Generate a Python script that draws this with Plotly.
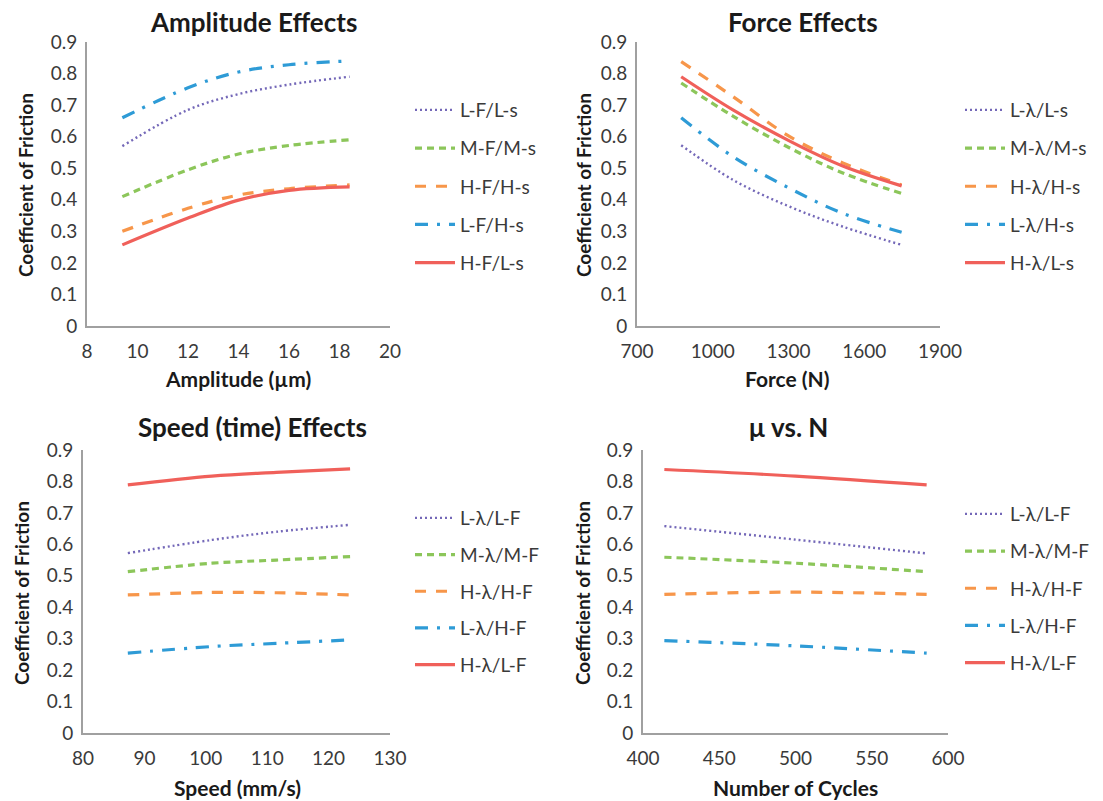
import plotly.graph_objects as go

W, H = 1103, 801

# ---------------- data ----------------
amp_x = [9.4, 12, 14, 16, 18.4]
amp_LF_Ls = [0.57, 0.685, 0.735, 0.765, 0.79]
amp_MF_Ms = [0.41, 0.495, 0.545, 0.572, 0.59]
amp_HF_Hs = [0.30, 0.373, 0.415, 0.435, 0.447]
amp_LF_Hs = [0.66, 0.755, 0.805, 0.828, 0.84]
amp_HF_Ls = [0.257, 0.342, 0.399, 0.430, 0.441]
amp_names = ["L-F/L-s", "M-F/M-s", "H-F/H-s", "L-F/H-s", "H-F/L-s"]

force_x = [875, 1080, 1305, 1515, 1748]
force_L_Ls = [0.573, 0.463, 0.378, 0.315, 0.257]
force_M_Ms = [0.77, 0.665, 0.564, 0.485, 0.42]
force_H_Hs = [0.838, 0.727, 0.60, 0.517, 0.447]
force_L_Hs = [0.66, 0.537, 0.436, 0.357, 0.297]
force_H_Ls = [0.79, 0.685, 0.586, 0.507, 0.444]
force_names = ["L-λ/L-s", "M-λ/M-s", "H-λ/H-s", "L-λ/H-s", "H-λ/L-s"]

speed_x = [87.3, 101, 111.5, 123.5]
speed_L_LF = [0.572, 0.614, 0.64, 0.662]
speed_M_MF = [0.513, 0.54, 0.55, 0.561]
speed_H_HF = [0.439, 0.447, 0.446, 0.439]
speed_L_HF = [0.254, 0.275, 0.285, 0.296]
speed_H_LF = [0.789, 0.817, 0.829, 0.84]
speed_names = ["L-λ/L-F", "M-λ/M-F", "H-λ/H-F", "L-λ/H-F", "H-λ/L-F"]

cyc_x = [414, 500, 586]
cyc_L_LF = [0.658, 0.615, 0.571]
cyc_M_MF = [0.559, 0.54, 0.513]
cyc_H_HF = [0.441, 0.448, 0.441]
cyc_L_HF = [0.294, 0.277, 0.254]
cyc_H_LF = [0.838, 0.817, 0.789]
cyc_names = ["L-λ/L-F", "M-λ/M-F", "H-λ/H-F", "L-λ/H-F", "H-λ/L-F"]

titles = ["Amplitude Effects", "Force Effects", "Speed (time) Effects", "μ vs. N"]
xtitles = ["Amplitude (µm)", "Force (N)", "Speed (mm/s)", "Number of Cycles"]
ytitle = "Coefficient of Friction"

# ---------------- styles ----------------
colors = ["#7468b8", "#8cc65a", "#f7964a", "#2e9bd6", "#f0605a"]
dashes = ["2px,3px", "7px,5px", "11px,10px", "13px,9px,3px,9px", "solid"]
widths = [2.4, 3.2, 3.2, 3.2, 3.2]

FONT = "Lato, Open Sans, sans-serif"
TXT = "#3a3a3a"

def X(px):
    return px / W

def Y(py):
    return 1 - py / H

panels = [
    dict(x=amp_x, ys=[amp_LF_Ls, amp_MF_Ms, amp_HF_Hs, amp_LF_Hs, amp_HF_Ls], names=amp_names,
         box=(87, 390, 42, 326), xr=[8, 20], dt=2, leg=(410, 91), gap=10.5,
         title=(253, 22), xt=(238, 378), yt=(25, 185)),
    dict(x=force_x, ys=[force_L_Ls, force_M_Ms, force_H_Hs, force_L_Hs, force_H_Ls], names=force_names,
         box=(637, 940, 42, 326), xr=[700, 1900], dt=300, leg=(960, 91), gap=10.5,
         title=(803, 22), xt=(787, 378), yt=(583, 185)),
    dict(x=speed_x, ys=[speed_L_LF, speed_M_MF, speed_H_HF, speed_L_HF, speed_H_LF], names=speed_names,
         box=(83, 390, 450, 733), xr=[80, 130], dt=10, leg=(410, 499), gap=9,
         title=(252, 427), xt=(237, 787), yt=(21, 593)),
    dict(x=cyc_x, ys=[cyc_L_LF, cyc_M_MF, cyc_H_HF, cyc_L_HF, cyc_H_LF], names=cyc_names,
         box=(643, 948, 450, 733), xr=[400, 600], dt=50, leg=(960, 495), gap=9.5,
         title=(788, 427), xt=(795, 787), yt=(582, 593)),
]

fig = go.Figure()
annotations = []
layout = dict(
    width=W, height=H, margin=dict(l=0, r=0, t=0, b=0, autoexpand=False),
    paper_bgcolor="white", plot_bgcolor="white",
    font=dict(family=FONT, color=TXT),
    showlegend=True,
)

for i, p in enumerate(panels):
    k = i + 1
    xa = "x" if k == 1 else f"x{k}"
    ya = "y" if k == 1 else f"y{k}"
    lg = "legend" if k == 1 else f"legend{k}"
    for j in range(5):
        fig.add_trace(go.Scatter(
            x=p["x"], y=p["ys"][j], name=p["names"][j], mode="lines",
            line=dict(color=colors[j], width=widths[j], dash=dashes[j], shape="spline", smoothing=1.0),
            xaxis=xa, yaxis=ya, legend=lg, legendgroup=f"g{k}_{j}",
        ))
    x0, x1, y0, y1 = p["box"]
    axs = dict(showline=True, linecolor="#a0a0a0", linewidth=2, showgrid=False, zeroline=False,
               ticks="", automargin=False, tickfont=dict(size=19, color=TXT, family=FONT))
    layout["xaxis" if k == 1 else f"xaxis{k}"] = dict(
        domain=[X(x0), X(x1)], range=p["xr"], dtick=p["dt"], tick0=p["xr"][0],
        anchor=ya, ticklabelstandoff=7, **axs)
    layout["yaxis" if k == 1 else f"yaxis{k}"] = dict(
        domain=[Y(y1), Y(y0)], range=[0, 0.9], dtick=0.1, tickformat="~g",
        anchor=xa, ticklabelstandoff=4, **axs)
    layout[lg] = dict(
        x=X(p["leg"][0]), y=Y(p["leg"][1]), xanchor="left", yanchor="top",
        font=dict(size=19, color=TXT, family=FONT), tracegroupgap=p["gap"],
        bgcolor="rgba(0,0,0,0)", itemwidth=40,
    )
    annotations.append(dict(text=f"<b>{titles[i]}</b>", x=X(p["title"][0]), y=Y(p["title"][1]),
                            xref="paper", yref="paper", showarrow=False,
                            xanchor="center", yanchor="middle",
                            font=dict(size=26, color="#1a1a1a", family=FONT)))
    annotations.append(dict(text=f"<b>{xtitles[i]}</b>", x=X(p["xt"][0]), y=Y(p["xt"][1]),
                            xref="paper", yref="paper", showarrow=False,
                            xanchor="center", yanchor="middle",
                            font=dict(size=21, color="#1a1a1a", family=FONT)))
    annotations.append(dict(text=f"<b>{ytitle}</b>", x=X(p["yt"][0]), y=Y(p["yt"][1]),
                            xref="paper", yref="paper", showarrow=False, textangle=-90,
                            xanchor="center", yanchor="middle",
                            font=dict(size=19, color="#1a1a1a", family=FONT)))

layout["annotations"] = annotations
fig.update_layout(**layout)
fig.write_html("out.html")
